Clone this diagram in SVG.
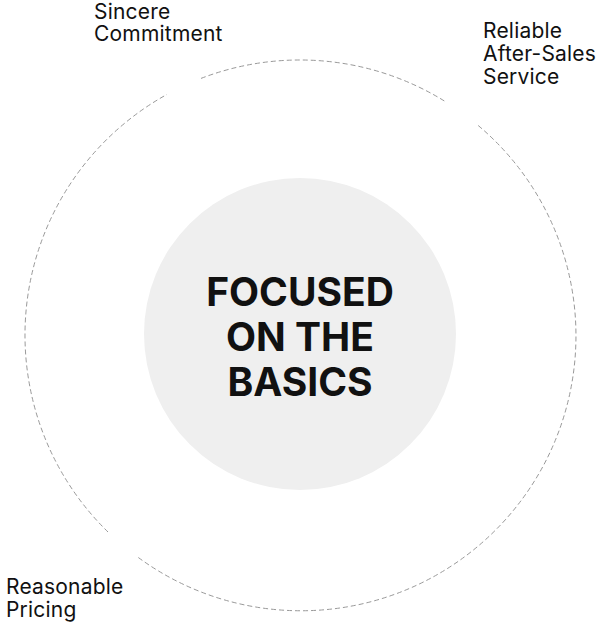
<svg xmlns="http://www.w3.org/2000/svg" width="603" height="626" viewBox="0 0 603 626">
<style>
.ring{fill:none;stroke:#999;stroke-width:1;stroke-dasharray:5 3}
.lbl{font-family:Inter,"Liberation Sans",sans-serif;font-size:21px;letter-spacing:0.2px;fill:#111}
.core{font-family:Inter,"Liberation Sans",sans-serif;font-size:39px;font-weight:700;fill:#111;text-anchor:middle}
</style>
<rect width="603" height="626" fill="#fff"/>
<g id="connectors">
<path class="ring" d="M201,78.4 A275,275 0 0 1 446,102"/>
<path class="ring" d="M478.2,125.5 A275,275 0 0 1 138.3,557.5"/>
<path class="ring" d="M108,532 A275,275 0 0 1 167,94.4"/>
</g>
<g id="center">
<circle cx="300" cy="334" r="156" fill="#efefef"/>
<text class="core" x="300" y="306">FOCUSED</text>
<text class="core" x="300" y="351">ON THE</text>
<text class="core" x="300" y="396">BASICS</text>
</g>
<g id="sincere"><text class="lbl" x="94" y="19">Sincere</text><text class="lbl" x="94" y="41">Commitment</text></g>
<g id="service"><text class="lbl" x="483" y="38">Reliable</text><text class="lbl" x="483" y="61">After-Sales</text><text class="lbl" x="483" y="84">Service</text></g>
<g id="pricing"><text class="lbl" x="6" y="594">Reasonable</text><text class="lbl" x="6" y="617">Pricing</text></g>
</svg>
